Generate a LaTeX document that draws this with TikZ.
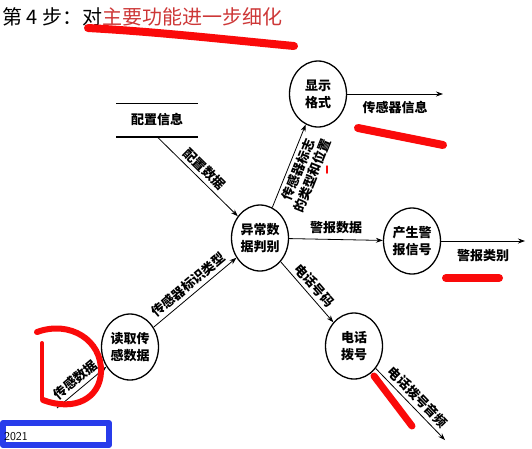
\documentclass[tikz,border=0pt]{standalone}
\usepackage{fontspec}
\newfontfamily\cjk{Noto Sans CJK SC}
\usepackage{tikz}
\usetikzlibrary{arrows.meta,calc,positioning,shapes.geometric}
\definecolor{titlered}{RGB}{205,55,55}
\definecolor{inkred}{RGB}{250,10,10}
\definecolor{boxblue}{RGB}{40,60,235}
\tikzset{proc/.style={draw,ellipse,line width=1.3pt,minimum width=57pt,minimum height=66pt,inner sep=0pt,align=center,font=\cjk\bfseries\fontsize{13}{17}\selectfont},
  flow/.style={->,line width=0.8pt},
  lbl/.style={font=\cjk\bfseries\fontsize{13}{15}\selectfont,inner sep=3.5pt},
  scrib/.style={inkred,line cap=round,line join=round}}

\begin{document}
\begin{tikzpicture}[x=1pt,y=-1pt,>={Stealth[length=7pt,width=5pt]},line join=round]
\useasboundingbox (0,0) rectangle (532,448);
% --- title
\node[anchor=west,inner sep=0pt,font=\cjk\fontsize{20}{22}\selectfont] (title) at (2,17) {第 4 步：对\textcolor{titlered}{主要功能进一步细化}};
% --- processes and store
\node[proc] (disp) at (318,94) {显示\\格式};
\node[proc] (judge) at (260,238) {异常数\\据判别};
\node[proc] (alarm) at (412,241) {产生警\\报信号};
\node[proc] (read) at (130,347) {读取传\\感数据};
\node[proc] (dial) at (354,346) {电话\\拨号};
\node[lbl,minimum width=81pt,minimum height=33pt] (cfg) at (157,120) {配置信息};
\draw[line width=1.6pt] (cfg.north west) -- (cfg.north east); \draw[line width=1.6pt] (cfg.south west) -- (cfg.south east);
\coordinate (src) at (57,408); \coordinate (dispout) at (443,94); \coordinate (alarmout) at (525,241); \coordinate (dialout) at (445,440);
% --- flows
\draw[flow] (cfg.south) -- (judge) node[lbl,midway,sloped,above] {配置数据};
\draw[flow] (judge) -- (disp) node[lbl,midway,sloped,below,align=center,font=\cjk\bfseries\fontsize{13}{15}\selectfont] {传感器标志\\的类型和位置};
\draw[flow] (disp) -- (dispout) node[lbl,pos=0.5,below=3pt] {传感器信息};
\draw[flow] (judge) -- (alarm) node[lbl,midway,above=2pt] {警报数据};
\draw[flow] (alarm) -- (alarmout) node[lbl,midway,below=4pt] {警报类别};
\draw[flow] (src) -- (read) node[lbl,midway,sloped,above] {传感数据};
\draw[flow] (read) -- (judge) node[lbl,midway,sloped,above] {传感器标识类型};
\draw[flow] (judge) -- (dial) node[lbl,midway,sloped,above] {电话号码};
\draw[flow] (dial) -- (dialout) node[lbl,midway,sloped,above] {电话拨号音频};
% --- red pen marks
\draw[scrib,line width=8pt] (88,28) .. controls (160,32) and (230,40) .. (294,46);
\draw[scrib,line width=8pt] (358,128) -- (443,145);
\draw[scrib,line width=8pt] (446,278) -- (499,278);
\draw[scrib,line width=7pt] (374,376) -- (412,426);
\draw[scrib,line width=6pt] (37,332) .. controls (70,320) and (102,340) .. (101,372) .. controls (100,398) and (75,412) .. (43,400);
\draw[scrib,line width=4pt] (42,343) -- (42,398);
\draw[scrib,line width=1.5pt] (327,166) -- (327,173);
% --- corner box
\draw[boxblue,line width=6pt] (3,423) rectangle (109,445);
\node[anchor=west,inner sep=0pt,font=\sffamily\fontsize{12}{12}\selectfont] (yr) at (4,437) {2021};
\end{tikzpicture}
\end{document}
